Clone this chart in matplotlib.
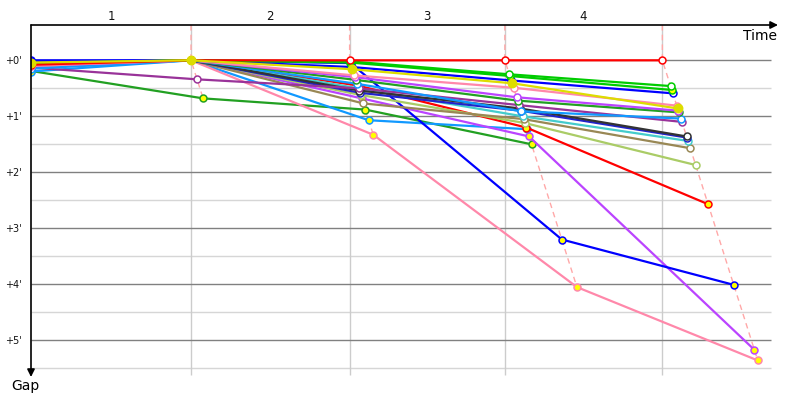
import matplotlib
matplotlib.use('Agg')
import matplotlib.pyplot as plt
from matplotlib.transforms import blended_transform_factory

# ---- data ----
lap_names = ['1', '2', '3', '4']
leader_lap_minutes = [8.99, 8.91, 8.72, 8.85]
gap_ticks = [0, 1, 2, 3, 4, 5]
gap_labels = ["+0'", "+1'", "+2'", "+3'", "+4'", "+5'"]

driver_colors = ['#22a022', '#1199ff', '#bb44ff', '#ff88aa', '#0000ff', '#ff0000',
                 '#aacc66', '#998855', '#44cccc', '#2222cc', '#333333', '#993399',
                 '#1199ff', '#22a022', '#bb44ff', '#ff88aa', '#0000ff',
                 '#00cc00', '#00cc00', '#ff0000', '#dddd00']
driver_faces = ['#ffff00', '#ffff00', '#ffff00', '#ffff00', '#ffff00', '#ffff00',
                'white', 'white', 'white', 'white', 'white', 'white',
                'white', 'white', 'white', 'white', 'white',
                '#ffff00', 'white', 'white', '#dddd00']
# gap (minutes) at start, lap1 .. lap4 ; None = no more laps
driver_gaps = [
    [0.19, 0.68, 0.88, 1.50, None],
    [0.20, 0.00, 1.07, 1.23, None],
    [0.11, 0.00, 0.68, 1.36, 5.17],
    [0.10, 0.00, 1.33, 4.05, 5.36],
    [0.00, 0.00, 0.05, 3.20, 4.01],
    [0.09, 0.00, 0.45, 1.20, 2.57],
    [0.10, 0.00, 0.62, 1.12, 1.87],
    [0.10, 0.00, 0.77, 1.05, 1.57],
    [0.11, 0.00, 0.50, 1.00, 1.44],
    [0.03, 0.00, 0.58, 0.90, 1.38],
    [0.09, 0.00, 0.54, 0.86, 1.36],
    [0.13, 0.34, 0.50, 0.80, 1.10],
    [0.15, 0.00, 0.42, 0.91, 1.04],
    [0.07, 0.00, 0.35, 0.72, 0.93],
    [0.10, 0.00, 0.30, 0.66, 0.90],
    [0.10, 0.00, 0.27, 0.49, 0.81],
    [0.02, 0.00, 0.12, 0.36, 0.59],
    [0.06, 0.00, 0.04, 0.28, 0.53],
    [0.05, 0.00, 0.02, 0.25, 0.46],
    [0.08, 0.00, 0.00, 0.00, 0.00],
    [0.04, 0.00, 0.16, 0.41, 0.86],
]

# ---- layout ----
W, H = 800, 400
ax_left, ax_right, ax_top, ax_bottom = 31, 780, 25, 380
px_per_min_x = 17.8
px_per_min_y = 56.0
zero_y = 60.3

fig = plt.figure(figsize=(8, 4), dpi=100)
ax = fig.add_axes([ax_left / W, 1 - ax_bottom / H, (ax_right - ax_left) / W, (ax_bottom - ax_top) / H])
ax.set_xlim(0, (ax_right - ax_left) / px_per_min_x)
g_top = -(zero_y - ax_top) / px_per_min_y
g_bot = (ax_bottom - zero_y) / px_per_min_y
ax.set_ylim(g_bot, g_top)
for s in ax.spines.values():
    s.set_visible(False)

# leader cumulative times
lap_ends = []
t = 0.0
for d in leader_lap_minutes:
    t += d
    lap_ends.append(t)

grid_end = (771 - ax_left) / px_per_min_x
vline_end = (375 - zero_y) / px_per_min_y

# horizontal grid
for g in gap_ticks:
    ax.hlines(g, 0, grid_end, color='#808080', lw=1, zorder=1)
    ax.hlines(g + 0.5, 0, grid_end, color='#d6d6d6', lw=1, zorder=0.5)
# vertical lap lines
ax.vlines(lap_ends, g_top, vline_end, color='#cccccc', lw=1, zorder=0.6)

# lap labels
trans = blended_transform_factory(ax.transData, ax.transAxes)
starts = [0.0] + lap_ends[:-1]
for name, a, b in zip(lap_names, starts, lap_ends):
    ax.text((a + b) / 2, 1 + 8 / (ax_bottom - ax_top), name, transform=trans,
            ha='center', va='center', fontsize=8.5, color='#111111')

# dashed lap connectors
for k, T in enumerate(lap_ends):
    gs = sorted(gg[k + 1] for gg in driver_gaps if gg[k + 1] is not None)
    xs = [T] + [T + g for g in gs]
    ys = [g_top] + gs
    ax.plot(xs, ys, color='#ffa8a8', lw=1, ls=(0, (4, 3)), zorder=2)

# driver lines
for col, face, gg in zip(driver_colors, driver_faces, driver_gaps):
    xs, ys = [], []
    for k, g in enumerate(gg):
        if g is None:
            break
        xs.append(0.0 if k == 0 else lap_ends[k - 1] + g)
        ys.append(g)
    ms = 6 if face == col else 5
    ax.plot(xs, ys, color=col, lw=1.6, zorder=3, marker='o', ms=ms,
            mfc=face, mec=col, mew=1.1, solid_capstyle='round')

# axes arrows
ap = dict(arrowstyle='-|>', lw=1.2, color='black', mutation_scale=11, shrinkA=0, shrinkB=0)
ax.annotate('', xy=((778 - ax_left) / (ax_right - ax_left), 1), xytext=(0, 1),
            xycoords='axes fraction', textcoords='axes fraction', arrowprops=ap, zorder=5)
ax.annotate('', xy=(0, (ax_bottom - 377) / (ax_bottom - ax_top)), xytext=(0, 1),
            xycoords='axes fraction', textcoords='axes fraction', arrowprops=ap, zorder=5)

ax.set_xticks([])
ax.set_yticks(gap_ticks, gap_labels)
ax.tick_params(axis='y', length=0, pad=6.5, labelsize=7, labelcolor='#111111')

fig.text(777 / W, 1 - 36 / H, 'Time', ha='right', va='center', fontsize=10)
fig.text(25 / W, 1 - 386 / H, 'Gap', ha='center', va='center', fontsize=10)

fig.savefig('out.png', dpi=100)
